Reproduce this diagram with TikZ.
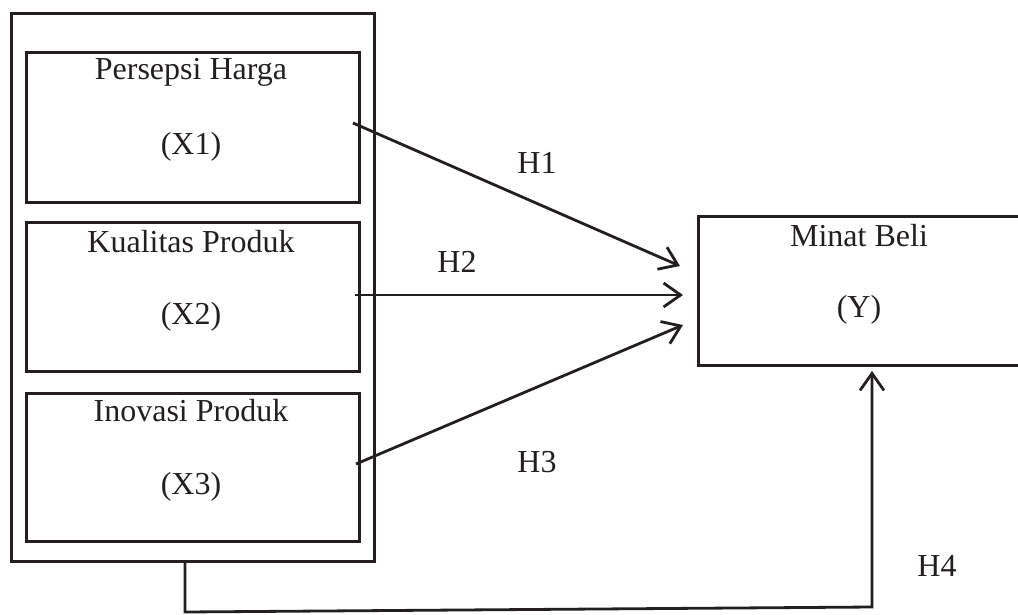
\documentclass[tikz,border=0pt]{standalone}
\usepackage{fontspec}
\setmainfont{Liberation Serif}
\usetikzlibrary{arrows.meta}
\definecolor{ink}{HTML}{231F20}
\begin{document}
\begin{tikzpicture}[x=1pt,y=-1pt,
  box/.style={draw=ink,line width=2.8pt,rectangle,inner sep=0pt,anchor=north west},
  txt/.style={text=ink,font=\fontsize{32}{38}\selectfont,inner sep=0pt},
  arr/.style={draw=ink,line width=2.8pt,-{Straight Barb[length=17pt,width=24pt,line width=2.8pt]}},
  ln/.style={draw=ink,line width=2.8pt}]
\useasboundingbox (0,0) rectangle (1018,614);
\clip (0,0) rectangle (1018,614);
% outer box
\node[box,minimum width=363pt,minimum height=548pt] (outer) at (10,12) {};
% inner boxes
\node[box,minimum width=333pt,minimum height=150pt] (b1) at (25,51) {};
\node[box,minimum width=333pt,minimum height=149pt] (b2) at (25,221) {};
\node[box,minimum width=333pt,minimum height=148pt] (b3) at (25,392) {};
\node[box,minimum width=326pt,minimum height=149pt] (y) at (697,215) {};
% texts
\node[txt] (t1) at (191,72) {Persepsi Harga};
\node[txt] (x1) at (191,147) {(X1)};
\node[txt] (t2) at (191,242) {Kualitas Produk};
\node[txt] (x2) at (191,317) {(X2)};
\node[txt] (t3) at (191,411) {Inovasi Produk};
\node[txt] (x3) at (191,487) {(X3)};
\node[txt] (ty) at (859,236) {Minat Beli};
\node[txt] (yy) at (859,310) {(Y)};
% labels
\node[txt] (h1) at (537,163) {H1};
\node[txt] (h2) at (457,262) {H2};
\node[txt] (h3) at (537,462) {H3};
\node[txt] (h4) at (937,566) {H4};
% connector coordinates
\coordinate (s1) at (353,123);
\coordinate (e1) at (680,266);
\coordinate (s2) at (355,295);
\coordinate (e2) at (683,295);
\coordinate (s3) at (356,464);
\coordinate (e3) at (683,325);
\coordinate (s4) at (185,563);
\coordinate (c4) at (185,612);
\coordinate (d4) at (872,607);
\coordinate (e4) at (872,371);
\draw[arr] (s1) -- (e1);
\draw[arr] (s2) -- (e2);
\draw[arr] (s3) -- (e3);
\draw[arr,line join=miter] (s4) -- (c4) -- (d4) -- (e4);
\end{tikzpicture}
\end{document}
